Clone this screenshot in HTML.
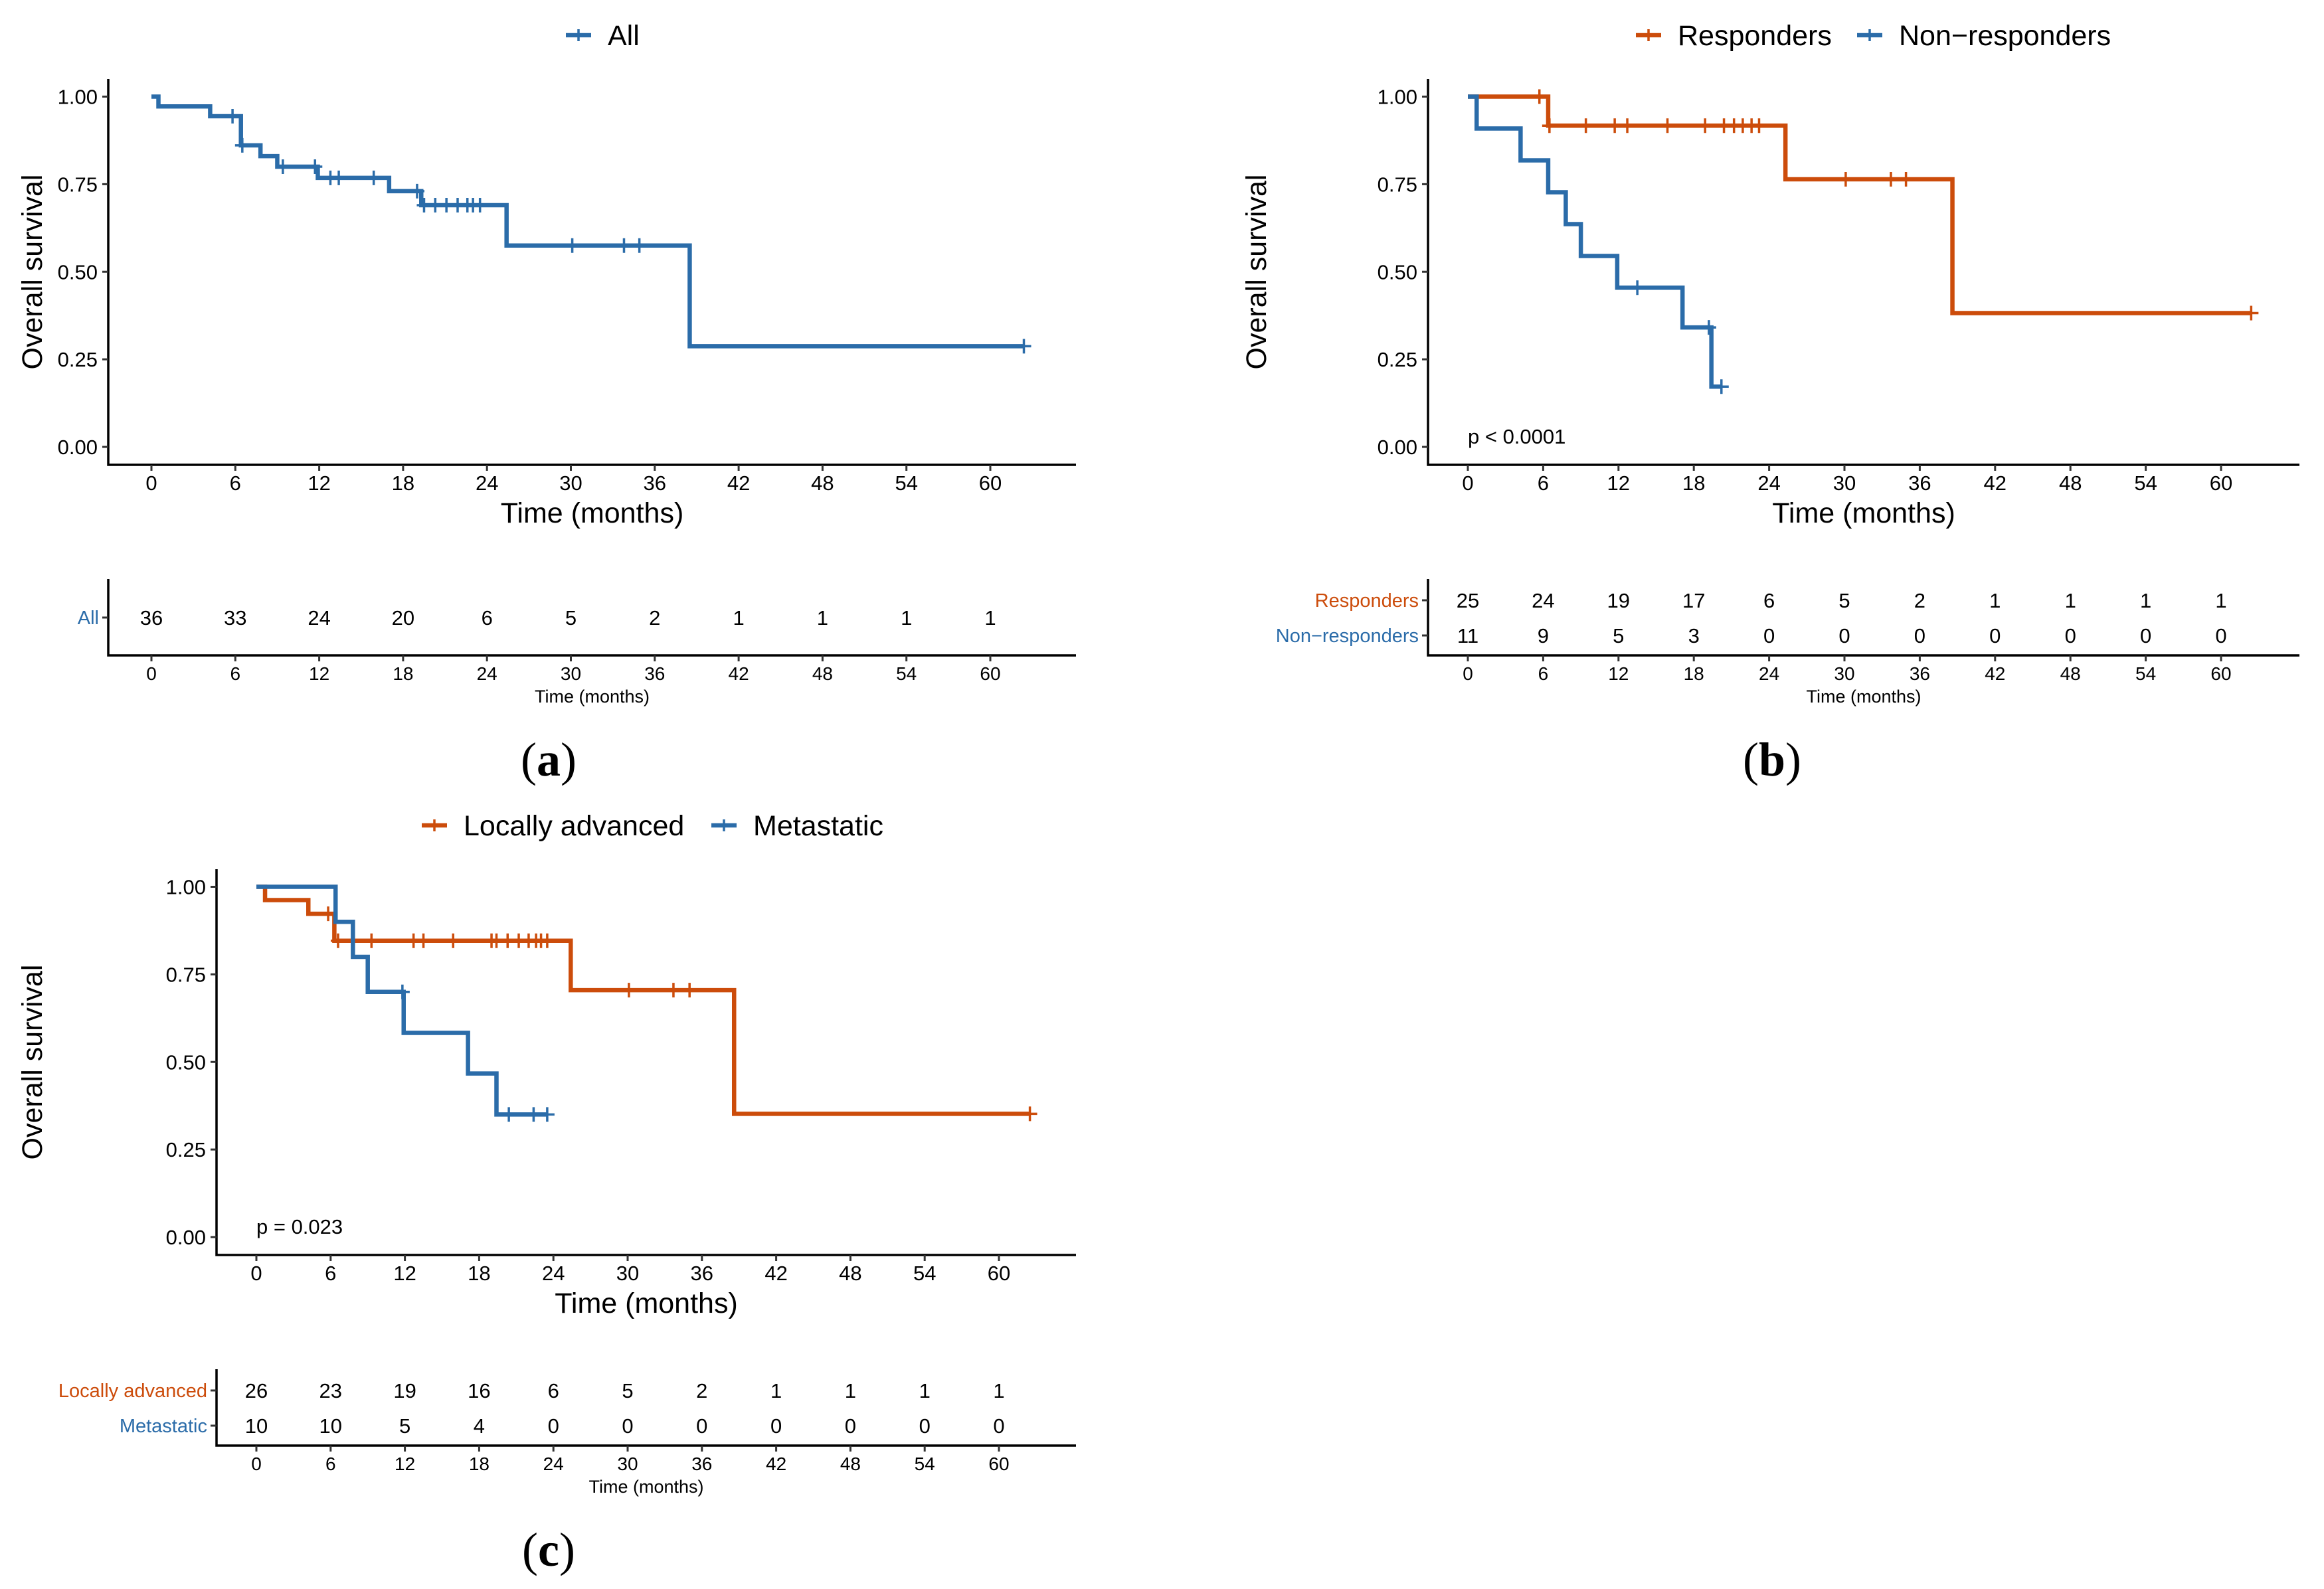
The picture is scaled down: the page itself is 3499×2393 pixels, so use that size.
<!DOCTYPE html>
<html><head><meta charset="utf-8"><style>
html,body{margin:0;padding:0;background:#fff}
svg{display:block}
text{font-family:"Liberation Sans",Arial,sans-serif}
</style></head><body>
<svg id="fig" xmlns="http://www.w3.org/2000/svg" width="3499" height="2393" viewBox="0 0 3499 2393"></svg>
<script>
// ---------- DATA ----------
const xTicks = [0,6,12,18,24,30,36,42,48,54,60];
const yTicks = [0,0.25,0.5,0.75,1];
const yTickLabels = ["0.00","0.25","0.50","0.75","1.00"];

// Panel a: All
const allDropTimes = [0.5,4.2,6.4,7.8,9.0,11.9,17.0,19.3,25.4,38.5];
const allDropSurv  = [0.972,0.944,0.861,0.83,0.80,0.768,0.73,0.69,0.575,0.2875];
const allCensor    = [5.8,6.5,9.4,11.7,12.8,13.4,15.9,19.0,19.5,20.3,21.1,21.9,22.6,23.0,23.5,30.1,33.8,34.9,62.4];
const allRisk      = [36,33,24,20,6,5,2,1,1,1,1];

// Panel b
const respDropTimes = [6.4,25.3,38.6];
const respDropSurv  = [0.917,0.764,0.382];
const respCensor    = [5.7,6.5,9.4,11.7,12.7,15.9,18.9,20.4,21.2,21.9,22.6,23.2,30.1,33.7,34.9,62.4];
const respRisk      = [25,24,19,17,6,5,2,1,1,1,1];
const nonDropTimes  = [0.7,4.2,6.4,7.8,9.0,11.9,17.1,19.4];
const nonDropSurv   = [0.909,0.818,0.727,0.636,0.545,0.4545,0.341,0.172];
const nonCensor     = [13.5,19.2,20.2];
const nonRisk       = [11,9,5,3,0,0,0,0,0,0,0];

// Panel c
const locDropTimes = [0.7,4.2,6.3,25.4,38.6];
const locDropSurv  = [0.962,0.923,0.846,0.705,0.352];
const locCensor    = [5.8,6.6,9.3,12.7,13.5,15.9,19.0,19.4,20.3,21.2,22.0,22.6,23.0,23.5,30.1,33.7,35.0,62.5];
const locRisk      = [26,23,19,16,6,5,2,1,1,1,1];
const metDropTimes = [6.4,7.8,9.0,11.9,17.1,19.4];
const metDropSurv  = [0.90,0.80,0.70,0.583,0.467,0.35];
const metCensor    = [11.8,20.4,22.4,23.5];
const metRisk      = [10,10,5,4,0,0,0,0,0,0,0];

// ---------- DRAWING ----------
const BLUE="#2b6ca9", ORANGE="#cc4c0b";
const NS="http://www.w3.org/2000/svg";
const svg=document.getElementById('fig');
function el(tag,attrs,parent,txt){const e=document.createElementNS(NS,tag);for(const k in attrs)e.setAttribute(k,attrs[k]);if(txt!==undefined)e.textContent=txt;(parent||svg).appendChild(e);return e;}

function survAt(times,survs,t){let s=1;for(let i=0;i<times.length;i++){if(times[i]<=t)s=survs[i];}return s;}

function panel(g){
  const grp=el('g',{});
  
  
  const xs=t=>g.x0+(g.x60-g.x0)*t/60;
  const ys=v=>g.y0+(g.y1-g.y0)*v;
  const ax=el('path',{d:`M${g.axL},${g.top} V${g.axB} H${g.axR}`,fill:'none',stroke:'#000','stroke-width':3.5},grp);
  
  yTicks.forEach((v,i)=>{
    el('line',{x1:g.axL-9,x2:g.axL,y1:ys(v),y2:ys(v),stroke:'#333','stroke-width':3},grp);
    const t=el('text',{x:g.axL-16,y:ys(v)+11,'text-anchor':'end','font-size':31},grp,yTickLabels[i]);
    
  });
  xTicks.forEach(v=>{
    el('line',{x1:xs(v),x2:xs(v),y1:g.axB,y2:g.axB+9,stroke:'#333','stroke-width':3},grp);
    const t=el('text',{x:xs(v),y:g.axB+38,'text-anchor':'middle','font-size':31},grp,String(v));
    
  });
  const yt=el('text',{x:0,y:0,'text-anchor':'middle','font-size':43,transform:`translate(${g.ytX},${(g.top+g.axB)/2}) rotate(-90)`},grp,'Overall survival');
  
  const xt=el('text',{x:(g.axL+g.axR)/2,y:g.axB+87,'text-anchor':'middle','font-size':43},grp,'Time (months)');
  
  if(g.p){const pt=el('text',{x:g.x0,y:g.y0-5,'font-size':31},grp,g.p);}
  g.series.forEach(s=>{
    let d=`M${xs(0)},${ys(1)}`;
    s.times.forEach((t,i)=>{d+=` H${xs(t)} V${ys(s.survs[i])}`;});
    const end=Math.max(...s.censor,s.times[s.times.length-1]);
    d+=` H${xs(end)}`;
    const p=el('path',{d:d,fill:'none',stroke:s.color,'stroke-width':6.5},grp);
    
    s.censor.forEach(t=>{
      const cx=xs(t),cy=ys(survAt(s.times,s.survs,t));
      const c=el('path',{d:`M${cx-11},${cy} H${cx+11} M${cx},${cy-11} V${cy+11}`,stroke:s.color,'stroke-width':3.5},grp);
      
    });
  });
  g.series.forEach(s=>{
    const lg=el('g',{},grp);
    
    el('line',{x1:s.lx-19,x2:s.lx+19,y1:g.legY,y2:g.legY,stroke:s.color,'stroke-width':6.5},lg);
    el('line',{x1:s.lx,x2:s.lx,y1:g.legY-9,y2:g.legY+9,stroke:s.color,'stroke-width':3.5},lg);
    el('text',{x:s.lx+44,y:g.legY+15,'font-size':43},lg,s.label);
  });
  const rt=el('path',{d:`M${g.axL},${g.rTop} V${g.rBot} H${g.axR}`,fill:'none',stroke:'#000','stroke-width':3.5},grp);
  
  g.series.forEach((s,si)=>{
    const ry=g.rRows[si];
    el('line',{x1:g.axL-9,x2:g.axL,y1:ry,y2:ry,stroke:'#333','stroke-width':3},grp);
    const lb=el('text',{x:g.axL-14,y:ry+10,'text-anchor':'end','font-size':29,fill:s.color},grp,s.riskLabel);
    
    s.risk.forEach((n,i)=>{
      const t=el('text',{x:xs(xTicks[i]),y:ry+11,'text-anchor':'middle','font-size':31},grp,String(n));
      
    });
  });
  xTicks.forEach(v=>{
    el('line',{x1:xs(v),x2:xs(v),y1:g.rBot,y2:g.rBot+9,stroke:'#333','stroke-width':3},grp);
    el('text',{x:xs(v),y:g.rBot+37,'text-anchor':'middle','font-size':28},grp,String(v));
  });
  const rtt=el('text',{x:(g.axL+g.axR)/2,y:g.rBot+71,'text-anchor':'middle','font-size':27},grp,'Time (months)');
  
  const pl=el('text',{x:g.labX,y:g.labY,'text-anchor':'middle','font-size':72,style:'font-family:"Liberation Serif",serif'},grp);
  
  el('tspan',{},pl,'(');el('tspan',{'font-weight':'bold'},pl,g.letter);el('tspan',{},pl,')');
}

panel({name:'panel-a',letter:'a',axL:163,axR:1620,top:119,axB:700,x0:228,x60:1491,y1:145.5,y0:673,legY:53,ytX:63,
  rTop:872,rBot:987,rRows:[930],labX:826,labY:1168,
  series:[{key:'all',label:'All',riskLabel:'All',color:BLUE,lx:871,times:allDropTimes,survs:allDropSurv,censor:allCensor,risk:allRisk}]});

panel({name:'panel-b',letter:'b',axL:2150,axR:3462,top:119,axB:700,x0:2210,x60:3344,y1:145.5,y0:673,legY:53,ytX:1906,p:'p < 0.0001',
  rTop:872,rBot:987,rRows:[904,957],labX:2668,labY:1168,
  series:[{key:'responders',label:'Responders',riskLabel:'Responders',color:ORANGE,lx:2482,times:respDropTimes,survs:respDropSurv,censor:respCensor,risk:respRisk},
          {key:'non-responders',label:'Non\u2212responders',riskLabel:'Non\u2212responders',color:BLUE,lx:2815,times:nonDropTimes,survs:nonDropSurv,censor:nonCensor,risk:nonRisk}]});

panel({name:'panel-c',letter:'c',axL:326,axR:1620,top:1309,axB:1890,x0:386,x60:1504,y1:1335.5,y0:1863,legY:1243,ytX:63,p:'p = 0.023',
  rTop:2062,rBot:2177,rRows:[2094,2147],labX:826,labY:2358,
  series:[{key:'locally-advanced',label:'Locally advanced',riskLabel:'Locally advanced',color:ORANGE,lx:654,times:locDropTimes,survs:locDropSurv,censor:locCensor,risk:locRisk},
          {key:'metastatic',label:'Metastatic',riskLabel:'Metastatic',color:BLUE,lx:1090,times:metDropTimes,survs:metDropSurv,censor:metCensor,risk:metRisk}]});
</script>
</body></html>
